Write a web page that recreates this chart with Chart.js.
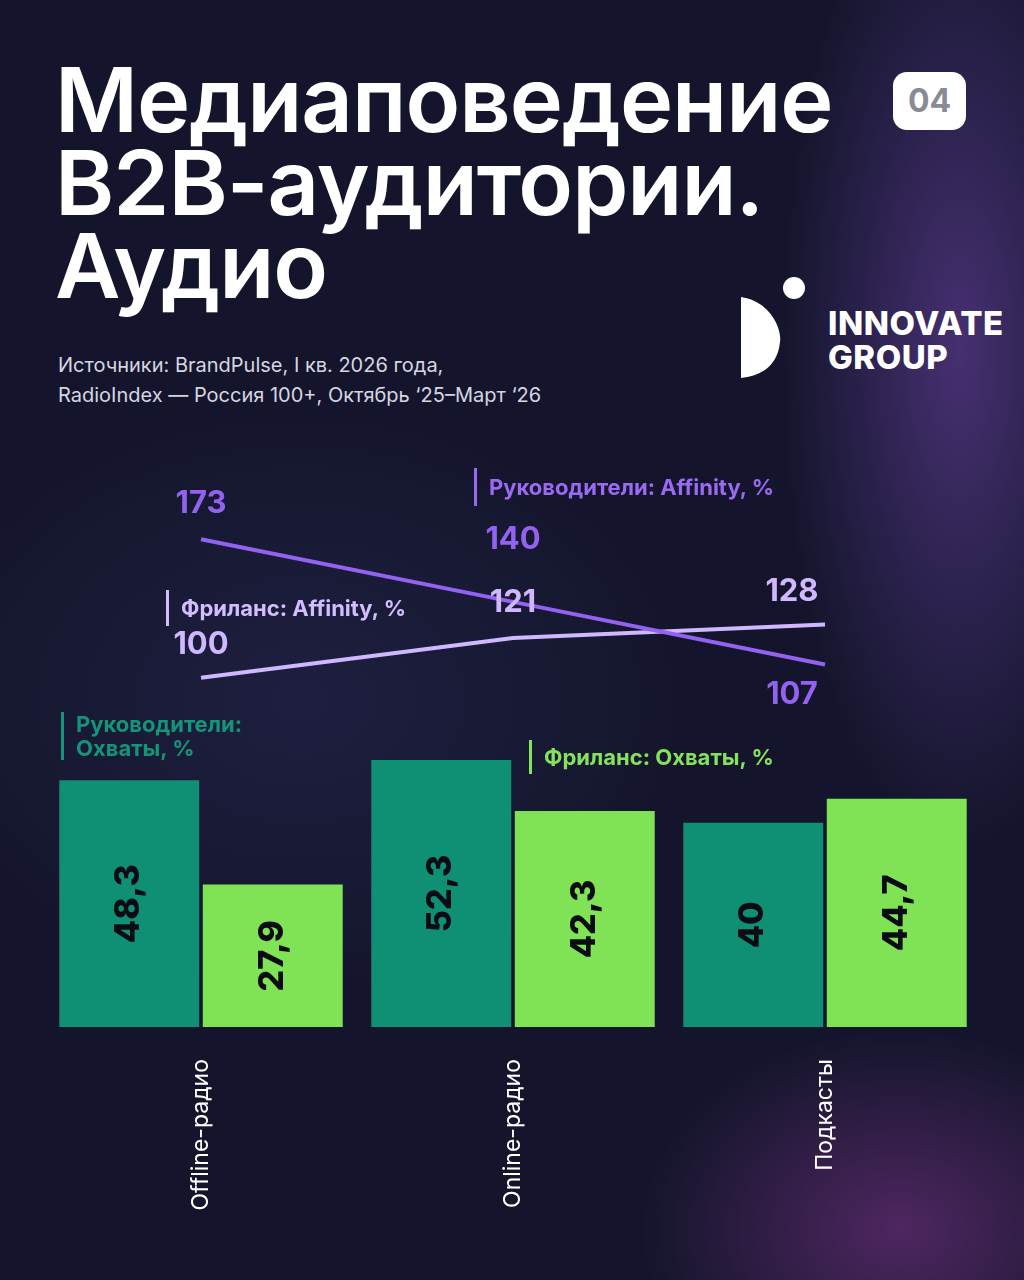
<!DOCTYPE html>
<html><head><meta charset="utf-8">
<script src="https://cdn.jsdelivr.net/npm/chart.js@4"></script>
<style>
body{margin:0;width:1024px;height:1280px;overflow:hidden;font-family:Inter,sans-serif;
 background:
  radial-gradient(ellipse 180px 500px at 960px 350px, rgba(110,70,170,0.55), transparent),
  radial-gradient(ellipse 260px 200px at 900px 1230px, rgba(150,60,160,0.45), transparent),
  radial-gradient(ellipse 400px 300px at 300px 700px, rgba(50,50,100,0.35), transparent),
  #14152c;position:relative;color:#fff}
#title{position:absolute;left:55px;top:58px;font-size:90px;font-weight:600;line-height:83px;letter-spacing:-1px}
#badge{position:absolute;left:893px;top:72px;width:73px;height:58px;background:#fff;border-radius:14px;color:#8a8a96;font-size:32px;font-weight:700;text-align:center;line-height:58px}
#src{position:absolute;left:58px;top:350px;font-size:20px;line-height:30px;color:#d6d6e0}
#logo{position:absolute;left:828px;top:306px;font-size:33px;font-weight:800;line-height:34px;letter-spacing:0.5px}
.ann{position:absolute;font-size:22px;font-weight:700;line-height:24px;padding-left:12px;border-left:3px solid}
canvas{position:absolute;left:0;top:440px}
</style></head><body>
<div id="title">Медиаповедение<br>B2B-аудитории.<br>Аудио</div>
<div id="badge">04</div>
<svg style="position:absolute;left:738px;top:272px" width="70" height="110">
<circle cx="56" cy="16" r="11" fill="#fff"/>
<path d="M3 25 C35 30 44 60 42 70 C40 92 25 104 3 106 Z" fill="#fff"/></svg>
<div id="logo">INNOVATE<br>GROUP</div>
<div id="src">Источники: BrandPulse, I кв. 2026 года,<br>RadioIndex — Россия 100+, Октябрь ‘25–Март ‘26</div>
<canvas id="c" width="1024" height="800"></canvas>
<div class="ann" style="left:474px;top:468px;color:#9a6af2;border-color:#9a6af2;line-height:38px">Руководители: Affinity, %</div>
<div class="ann" style="left:166px;top:590px;color:#d2beff;border-color:#d2beff;line-height:36px">Фриланс: Affinity, %</div>
<div class="ann" style="left:61px;top:712px;color:#149478;border-color:#149478">Руководители:<br>Охваты, %</div>
<div class="ann" style="left:529px;top:740px;color:#84e35c;border-color:#84e35c;line-height:34px">Фриланс: Охваты, %</div>
<script>
const categories = ['Offline-радио', 'Online-радио', 'Подкасты'];
const reachLeaders = [48.3, 52.3, 40];
const reachFreelance = [27.9, 42.3, 44.7];
const affinityLeaders = [173, 140, 107];
const affinityFreelance = [100, 121, 128];

const fmt = v => String(v).replace('.', ',');

const labelsPlugin = {
  id: 'labels',
  afterDatasetsDraw(chart) {
    const c = chart.ctx;
    c.save();
    // bar values
    [0, 1].forEach(di => {
      chart.getDatasetMeta(di).data.forEach((bar, i) => {
        const v = chart.data.datasets[di].data[i];
        c.save();
        c.translate(bar.x, (bar.y + bar.base) / 2);
        c.rotate(-Math.PI / 2);
        c.fillStyle = '#0b0b14';
        c.font = '800 34px Inter';
        c.textAlign = 'center'; c.textBaseline = 'middle';
        c.fillText(fmt(v), 0, 0);
        c.restore();
      });
    });
    // line labels
    const offs = [[-36, -62, 30], [-33, -35, -33]];
    [2, 3].forEach((di, k) => {
      const ds = chart.data.datasets[di];
      chart.getDatasetMeta(di).data.forEach((p, i) => {
        c.fillStyle = ds.borderColor;
        c.font = '700 31px Inter';
        c.textAlign = 'center'; c.textBaseline = 'middle';
        const dx = i === 2 ? -33 : 0;
        c.fillText(ds.data[i], p.x + dx, p.y + offs[k][i]);
      });
    });
    // category labels
    const xs = chart.scales.x;
    categories.forEach((t, i) => {
      c.save();
      c.translate(xs.getPixelForValue(i), chart.chartArea.bottom + 32);
      c.rotate(-Math.PI / 2);
      c.fillStyle = '#fff';
      c.font = '400 23px Inter';
      c.textAlign = 'right'; c.textBaseline = 'middle';
      c.fillText(t, 0, 0);
      c.restore();
    });
    c.restore();
  }
};

new Chart(document.getElementById('c'), {
  type: 'bar',
  data: {
    labels: categories,
    datasets: [
      { data: reachLeaders, backgroundColor: '#0f8f74', yAxisID: 'y', order: 2 },
      { data: reachFreelance, backgroundColor: '#7fe355', yAxisID: 'y', order: 2 },
      { type: 'line', data: affinityLeaders, borderColor: '#9462f0', borderWidth: 4, pointRadius: 0, yAxisID: 'y2', order: 1 },
      { type: 'line', data: affinityFreelance, borderColor: '#cfb8ff', borderWidth: 4, pointRadius: 0, yAxisID: 'y2', order: 1 }
    ]
  },
  options: {
    responsive: false, animation: false,
    layout: { padding: { left: 45, right: 43, top: 10, bottom: 213 } },
    datasets: { bar: { categoryPercentage: 0.92, barPercentage: 0.975 } },
    plugins: { legend: { display: false }, tooltip: { enabled: false } },
    scales: {
      x: { display: false },
      y: { display: false, min: 0, max: 113 },
      y2: { display: false, min: -84, max: 220 }
    }
  },
  plugins: [labelsPlugin]
});
</script>
</body></html>
